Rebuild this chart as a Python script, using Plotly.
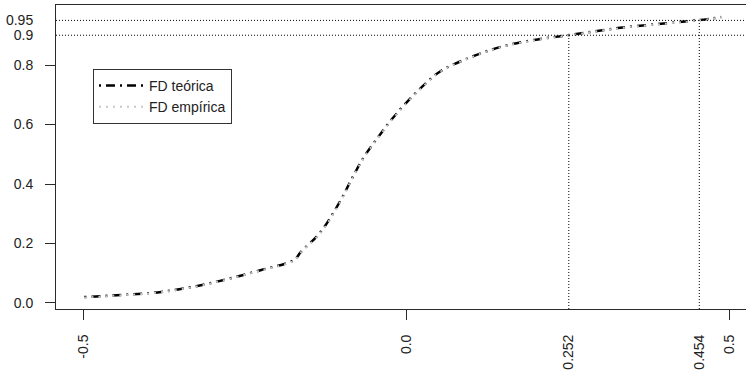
import plotly.graph_objects as go

# Curve values
x_vals = [-0.498, -0.441, -0.379, -0.302, -0.224, -0.173, -0.163, -0.132, -0.101,
          -0.085, -0.065, -0.043, -0.023, 0.000, 0.028, 0.054, 0.101, 0.147,
          0.198, 0.254, 0.328, 0.406, 0.454, 0.488]
fd_teorica = [0.020, 0.027, 0.037, 0.067, 0.111, 0.145, 0.171, 0.239, 0.346,
              0.413, 0.491, 0.558, 0.615, 0.672, 0.733, 0.780, 0.827, 0.861,
              0.884, 0.901, 0.924, 0.941, 0.951, 0.961]
fd_empirica = [0.018, 0.026, 0.036, 0.066, 0.110, 0.143, 0.170, 0.236, 0.343,
               0.411, 0.489, 0.556, 0.613, 0.670, 0.731, 0.779, 0.826, 0.860,
               0.883, 0.900, 0.923, 0.940, 0.950, 0.960]

# Reference levels (probabilities) and their quantiles
probs = [0.9, 0.95]
quantiles = [0.252, 0.454]

x_main_ticks = [-0.5, 0.0, 0.5]
x_main_labels = ["-0.5", "0.0", "0.5"]
y_main_ticks = [0.0, 0.2, 0.4, 0.6, 0.8]
y_main_labels = ["0.0", "0.2", "0.4", "0.6", "0.8"]
y_extra_labels = ["0.9", "0.95"]
x_extra_labels = ["0.252", "0.454"]

XR = [-0.5418, 0.5263]
YR = [-0.0202, 1.0017]
AX = "#2a2a2a"
FONT = dict(family="Liberation Sans, Arial, sans-serif", size=14, color="#222222")

fig = go.Figure()

fig.add_trace(go.Scatter(
    x=x_vals, y=fd_empirica, mode="lines", name="FD empírica",
    line=dict(color="#c8c8c8", width=2, dash="2px,5px", shape="spline"),
    xaxis="x2", yaxis="y2", legendrank=2))
fig.add_trace(go.Scatter(
    x=x_vals, y=fd_teorica, mode="lines", name="FD teórica",
    line=dict(color="black", width=2.5, dash="2px,5px,9px,5px", shape="spline"),
    legendrank=1))

for p, q in zip(probs, quantiles):
    fig.add_shape(type="line", xref="paper", yref="y", x0=0, x1=1, y0=p, y1=p,
                  line=dict(color="black", width=1, dash="1px,2px"))
    fig.add_shape(type="line", xref="x", yref="y", x0=q, x1=q, y0=YR[0], y1=p,
                  line=dict(color="black", width=1, dash="1px,2px"))

fig.update_layout(
    width=746, height=372,
    margin=dict(l=56, r=0, t=5, b=63),
    paper_bgcolor="white", plot_bgcolor="white",
    font=FONT,
    showlegend=True,
    legend=dict(x=0.0536, y=0.79, xanchor="left", yanchor="top",
                bordercolor="#333333", borderwidth=1, bgcolor="white",
                font=FONT, tracegroupgap=0, itemwidth=45),
    xaxis=dict(range=XR, showgrid=False, zeroline=False, showline=True,
               linecolor=AX, linewidth=1, mirror=True,
               tickvals=x_main_ticks, ticktext=x_main_labels, tickangle=-90,
               ticks="outside", ticklen=10, tickcolor=AX, tickwidth=1,
               ticklabelstandoff=9),
    yaxis=dict(range=YR, showgrid=False, zeroline=False, showline=True,
               linecolor=AX, linewidth=1,
               tickvals=y_main_ticks, ticktext=y_main_labels,
               ticks="outside", ticklen=10, tickcolor=AX, tickwidth=1,
               ticklabelstandoff=9),
    xaxis2=dict(range=XR, overlaying="x", anchor="y2", side="bottom",
                showgrid=False, zeroline=False, showline=False,
                tickvals=quantiles, ticktext=x_extra_labels, tickangle=-90,
                ticks="outside", ticklen=10, tickcolor="rgba(0,0,0,0)",
                ticklabelstandoff=9),
    yaxis2=dict(range=YR, overlaying="y", anchor="x2", side="left",
                showgrid=False, zeroline=False, showline=False,
                tickvals=probs, ticktext=y_extra_labels,
                ticks="outside", ticklen=10, tickcolor="rgba(0,0,0,0)",
                ticklabelstandoff=9),
)

fig.write_html("out.html")
